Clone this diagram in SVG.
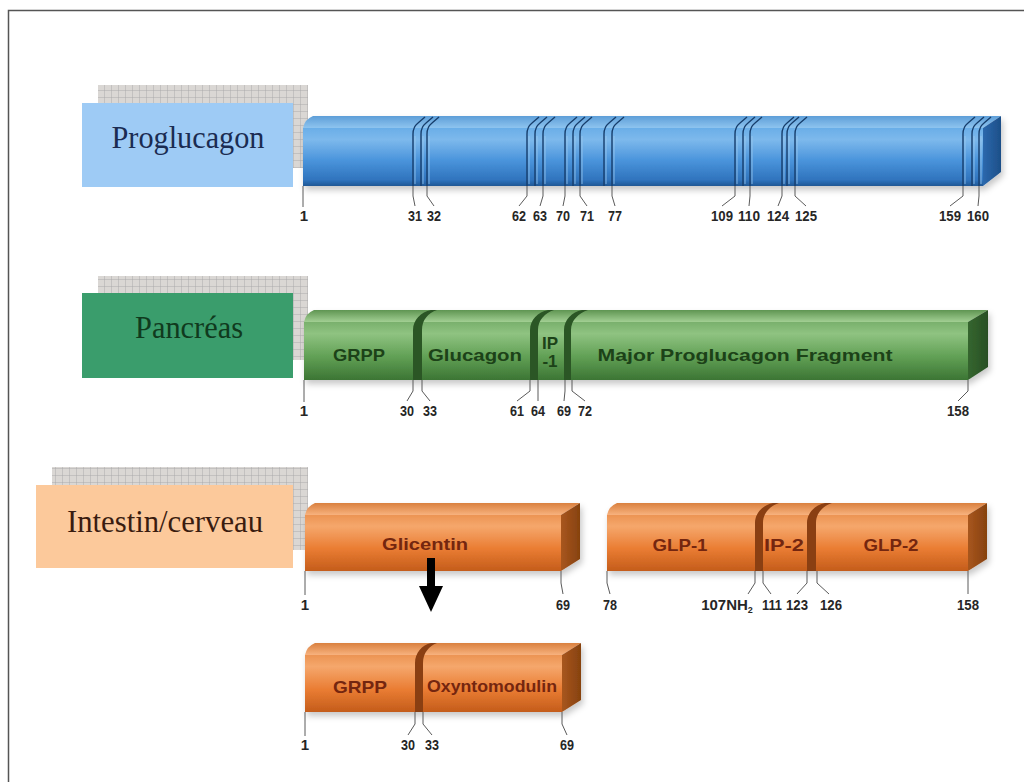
<svg xmlns="http://www.w3.org/2000/svg" width="1024" height="782" viewBox="0 0 1024 782">
  <defs>
    <style>
      .title { font-family: "Liberation Serif", "Times New Roman", serif; font-size: 32px; }
      .num { font-family: "Liberation Sans Narrow", "Liberation Sans", Arial, sans-serif; font-weight: bold; font-size: 15px; fill: #262626; text-anchor: middle; }
      .seg { font-family: "Liberation Sans", Arial, sans-serif; font-weight: bold; font-size: 17px; text-anchor: middle; }
      .seg-g { fill: #1c4218; }
      .seg-o { fill: #74260f; }
      .lead { fill: none; stroke: #5a5a5a; stroke-width: 1; }
      .cut-b { fill: none; stroke: #173e6c; stroke-width: 1.4; }
      .cut-hl { fill: none; stroke: #9cc9ee; stroke-width: 0.8; }
      .groove-g { fill: #2b5625; }
      .groove-o { fill: #8a3f12; }
    </style>

    <pattern id="grid" width="7" height="7" patternUnits="userSpaceOnUse">
      <rect width="7" height="7" fill="#dad7d4"/>
      <path d="M7,0 V7 M0,7 H7" stroke="#a6a6a8" stroke-width="0.9"/>
    </pattern>

    <filter id="shadow" x="-5%" y="-30%" width="110%" height="170%">
      <feDropShadow dx="2" dy="4" stdDeviation="3" flood-color="#000" flood-opacity="0.22"/>
    </filter>

    <!-- blue box -->
    <linearGradient id="bFront" x1="0" y1="0" x2="0" y2="1">
      <stop offset="0" stop-color="#6aaee8"/>
      <stop offset="0.2" stop-color="#7db9ec"/>
      <stop offset="0.55" stop-color="#4b95dc"/>
      <stop offset="0.9" stop-color="#2f73bd"/>
      <stop offset="1" stop-color="#1f5895"/>
    </linearGradient>
    <linearGradient id="bTop" x1="0" y1="0" x2="0" y2="1">
      <stop offset="0" stop-color="#5d9ed8"/>
      <stop offset="1" stop-color="#8ec4ef"/>
    </linearGradient>
    <linearGradient id="bSide" x1="0" y1="0" x2="1" y2="0">
      <stop offset="0" stop-color="#2b68ad"/>
      <stop offset="1" stop-color="#1d4f88"/>
    </linearGradient>

    <!-- green box -->
    <linearGradient id="gFront" x1="0" y1="0" x2="0" y2="1">
      <stop offset="0" stop-color="#79b06c"/>
      <stop offset="0.2" stop-color="#8fc381"/>
      <stop offset="0.6" stop-color="#61a055"/>
      <stop offset="1" stop-color="#3c7534"/>
    </linearGradient>
    <linearGradient id="gTop" x1="0" y1="0" x2="0" y2="1">
      <stop offset="0" stop-color="#5f9552"/>
      <stop offset="1" stop-color="#a2cf93"/>
    </linearGradient>
    <linearGradient id="gSide" x1="0" y1="0" x2="1" y2="0">
      <stop offset="0" stop-color="#35662f"/>
      <stop offset="1" stop-color="#284f24"/>
    </linearGradient>

    <!-- orange box -->
    <linearGradient id="oFront" x1="0" y1="0" x2="0" y2="1">
      <stop offset="0" stop-color="#ec9453"/>
      <stop offset="0.2" stop-color="#f5a76c"/>
      <stop offset="0.6" stop-color="#ea7d33"/>
      <stop offset="1" stop-color="#c45c1b"/>
    </linearGradient>
    <linearGradient id="oTop" x1="0" y1="0" x2="0" y2="1">
      <stop offset="0" stop-color="#d9803f"/>
      <stop offset="1" stop-color="#f7b27e"/>
    </linearGradient>
    <linearGradient id="oSide" x1="0" y1="0" x2="1" y2="0">
      <stop offset="0" stop-color="#a8561e"/>
      <stop offset="1" stop-color="#86420f"/>
    </linearGradient>
  </defs>

  <rect width="1024" height="782" fill="#ffffff"/>
  <!-- frame -->
  <path d="M8.5,782 V10.5 H1024" fill="none" stroke="#555" stroke-width="1.5"/>

  <!-- ===== Row 1: Proglucagon ===== -->
  <g id="label-proglucagon">
    <rect x="98" y="85" width="210" height="83" fill="url(#grid)"/>
    <rect x="82" y="103" width="211" height="84" fill="#9ecbf5"/>
    <text class="title" x="188" y="148" text-anchor="middle" fill="#1b2c52" textLength="153" lengthAdjust="spacingAndGlyphs">Proglucagon</text>
  </g>

  <g id="bar-proglucagon">
    <g filter="url(#shadow)">
      <path d="M303,128 Q305,119 313,116 H1001 L983,128 Z" fill="url(#bTop)"/>
      <rect x="303" y="128" width="680" height="58" fill="url(#bFront)"/>
      <path d="M983,128 L1001,116 V172 L983,186 Z" fill="url(#bSide)"/>
    </g>
    <g id="cuts-proglucagon">
      <path class="cut-b" d="M413,186 V134 Q413,127 418,123 L425,117 M421,186 V134 Q421,127 426,123 L433,117 M427,186 V134 Q427,127 432,123 L439,117"/>
      <path class="cut-b" d="M527,186 V134 Q527,127 532,123 L539,117 M535,186 V134 Q535,127 540,123 L547,117 M543,186 V134 Q543,127 548,123 L555,117"/>
      <path class="cut-b" d="M565,186 V134 Q565,127 570,123 L577,117 M573,186 V134 Q573,127 578,123 L585,117 M580,186 V134 Q580,127 585,123 L592,117"/>
      <path class="cut-b" d="M604,186 V134 Q604,127 609,123 L616,117 M612,186 V134 Q612,127 617,123 L624,117"/>
      <path class="cut-b" d="M735,186 V134 Q735,127 740,123 L747,117 M743,186 V134 Q743,127 748,123 L755,117 M750,186 V134 Q750,127 755,123 L762,117"/>
      <path class="cut-b" d="M782,186 V134 Q782,127 787,123 L794,117 M787,186 V134 Q787,127 792,123 L799,117 M795,186 V134 Q795,127 800,123 L807,117"/>
      <path class="cut-b" d="M963,186 V134 Q963,127 968,123 L975,117 M972,186 V134 Q972,127 977,123 L984,117 M979,186 V134 Q979,127 984,123 L991,117"/>
      <path class="cut-hl" d="M415,184 V136 M423,184 V136 M429,184 V136 M529,184 V136 M537,184 V136 M545,184 V136 M567,184 V136 M575,184 V136 M582,184 V136 M606,184 V136 M614,184 V136 M737,184 V136 M745,184 V136 M752,184 V136 M784,184 V136 M789,184 V136 M797,184 V136 M965,184 V136 M974,184 V136 M981,184 V136"/>
    </g>
  </g>

  <!-- ===== Row 2: Pancréas ===== -->
  <g id="label-pancreas">
    <rect x="98" y="276" width="210" height="84" fill="url(#grid)"/>
    <rect x="82" y="293" width="211" height="85" fill="#3a9d6c"/>
    <text class="title" x="189" y="338" text-anchor="middle" fill="#103a1e" textLength="108" lengthAdjust="spacingAndGlyphs">Pancréas</text>
  </g>

  <g id="bar-pancreas">
    <g filter="url(#shadow)">
      <path d="M304,322 Q306,313 314,310 H988 L968,322 Z" fill="url(#gTop)"/>
      <rect x="304" y="322" width="664" height="58" fill="url(#gFront)"/>
      <path d="M968,322 L988,310 V367 L968,380 Z" fill="url(#gSide)"/>
    </g>
    <path class="groove-g" d="M413,380 V330 C413,320 421,312 431,310 H437 C428,313 422,320 422,330 V380 Z"/>
    <path class="groove-g" d="M530,380 V330 C530,320 538,312 548,310 H554 C545,313 538,320 538,330 V380 Z"/>
    <path class="groove-g" d="M564,380 V330 C564,320 572,312 582,310 H588 C579,313 571,320 571,330 V380 Z"/>
    <text class="seg seg-g" x="359" y="361" textLength="52" lengthAdjust="spacingAndGlyphs">GRPP</text>
    <text class="seg seg-g" x="475" y="361" textLength="94" lengthAdjust="spacingAndGlyphs">Glucagon</text>
    <text class="seg seg-g" x="550" y="349" font-size="11">IP</text>
    <text class="seg seg-g" x="550" y="367" font-size="11">-1</text>
    <text class="seg seg-g" x="745" y="361" textLength="295" lengthAdjust="spacingAndGlyphs">Major Proglucagon Fragment</text>
  </g>

  <!-- ===== Row 3: Intestin/cerveau ===== -->
  <g id="label-intestin">
    <rect x="52" y="467" width="256" height="83" fill="url(#grid)"/>
    <rect x="36" y="485" width="257" height="83" fill="#fcc99b"/>
    <text class="title" x="165" y="532" text-anchor="middle" fill="#3a1c10" textLength="196" lengthAdjust="spacingAndGlyphs">Intestin/cerveau</text>
  </g>

  <g id="bar-glicentin">
    <g filter="url(#shadow)">
      <path d="M305,515 Q307,506 315,503 H580 L561,515 Z" fill="url(#oTop)"/>
      <rect x="305" y="515" width="256" height="56" fill="url(#oFront)"/>
      <path d="M561,515 L580,503 V559 L561,571 Z" fill="url(#oSide)"/>
    </g>
    <text class="seg seg-o" x="425" y="550" textLength="86" lengthAdjust="spacingAndGlyphs">Glicentin</text>
  </g>

  <g id="bar-glp">
    <g filter="url(#shadow)">
      <path d="M607,515 Q609,506 617,503 H987 L968,515 Z" fill="url(#oTop)"/>
      <rect x="607" y="515" width="361" height="56" fill="url(#oFront)"/>
      <path d="M968,515 L987,503 V559 L968,571 Z" fill="url(#oSide)"/>
    </g>
    <path class="groove-o" d="M755,571 V523 C755,513 763,505 773,503 H779 C770,506 763,513 763,523 V571 Z"/>
    <path class="groove-o" d="M807,571 V523 C807,513 815,505 825,503 H832 C823,506 816,513 816,523 V571 Z"/>
    <text class="seg seg-o" x="680" y="551" textLength="55" lengthAdjust="spacingAndGlyphs">GLP-1</text>
    <text class="seg seg-o" x="784" y="551" textLength="40" lengthAdjust="spacingAndGlyphs">IP-2</text>
    <text class="seg seg-o" x="891" y="551" textLength="55" lengthAdjust="spacingAndGlyphs">GLP-2</text>
  </g>

  <!-- ===== Row 4: glicentin products ===== -->
  <g id="bar-oxyntomodulin">
    <g filter="url(#shadow)">
      <path d="M305,655 Q307,646 315,643 H581 L562,655 Z" fill="url(#oTop)"/>
      <rect x="305" y="655" width="257" height="57" fill="url(#oFront)"/>
      <path d="M562,655 L581,643 V700 L562,712 Z" fill="url(#oSide)"/>
    </g>
    <path class="groove-o" d="M415,712 V663 C415,653 422,645 431,643 H437 C429,646 423,653 423,663 V712 Z"/>
    <text class="seg seg-o" x="360" y="693" textLength="54" lengthAdjust="spacingAndGlyphs">GRPP</text>
    <text class="seg seg-o" x="492" y="692" font-size="14" textLength="130" lengthAdjust="spacingAndGlyphs">Oxyntomodulin</text>
  </g>

  <!-- ===== connectors: position leaders and cleavage arrow ===== -->
  <g id="connectors">
    <path class="lead" d="M303,186 V207
      M413,186 V196 L415,206 M427,186 V196 L434,206
      M527,186 V196 L519,206 M543,186 V196 L540,206
      M565,186 V196 L563,206 M580,186 V196 L587,206
      M612,186 V196 L615,206
      M735,186 V196 L722,206 M750,186 V196 L749,206
      M782,186 V196 L778,206 M795,186 V196 L806,206
      M963,186 V196 L950,206 M979,186 V196 L978,206"/>
    <path class="lead" d="M304,380 V402
      M413,380 V391 L407,401 M422,380 V391 L430,401
      M530,380 V391 L517,401 M538,380 V391 L538,401
      M565,380 V391 L564,401 M572,380 V391 L585,401
      M968,380 V391 L958,401"/>
    <path class="lead" d="M305,571 V595 M561,571 V583 L563,594
      M607,571 V583 L610,594
      M755,571 V583 L748,594 M763,571 V583 L771,594
      M807,571 V583 L797,594 M817,571 V583 L829,594
      M968,571 V594"/>
    <path class="lead" d="M305,712 V736
      M415,712 V724 L408,735 M423,712 V724 L432,735
      M562,712 V724 L567,735"/>
    <g id="arrow-cleavage" fill="#000">
      <rect x="427" y="558" width="8" height="30"/>
      <polygon points="419,586 443,586 431,612"/>
    </g>
  </g>

  <!-- residue numbers -->
  <g id="numbers-proglucagon">
    <text class="num" x="304" y="221">1</text>
    <text class="num" x="415" y="221" textLength="14" lengthAdjust="spacingAndGlyphs">31</text>
    <text class="num" x="434" y="221" textLength="14" lengthAdjust="spacingAndGlyphs">32</text>
    <text class="num" x="519" y="221" textLength="14" lengthAdjust="spacingAndGlyphs">62</text>
    <text class="num" x="540" y="221" textLength="14" lengthAdjust="spacingAndGlyphs">63</text>
    <text class="num" x="563" y="221" textLength="14" lengthAdjust="spacingAndGlyphs">70</text>
    <text class="num" x="587" y="221" textLength="14" lengthAdjust="spacingAndGlyphs">71</text>
    <text class="num" x="615" y="221" textLength="14" lengthAdjust="spacingAndGlyphs">77</text>
    <text class="num" x="722" y="221" textLength="22" lengthAdjust="spacingAndGlyphs">109</text>
    <text class="num" x="749" y="221" textLength="22" lengthAdjust="spacingAndGlyphs">110</text>
    <text class="num" x="778" y="221" textLength="22" lengthAdjust="spacingAndGlyphs">124</text>
    <text class="num" x="806" y="221" textLength="22" lengthAdjust="spacingAndGlyphs">125</text>
    <text class="num" x="950" y="221" textLength="22" lengthAdjust="spacingAndGlyphs">159</text>
    <text class="num" x="978" y="221" textLength="22" lengthAdjust="spacingAndGlyphs">160</text>
  </g>
  <g id="numbers-pancreas">
    <text class="num" x="304" y="416">1</text>
    <text class="num" x="407" y="416" textLength="14" lengthAdjust="spacingAndGlyphs">30</text>
    <text class="num" x="430" y="416" textLength="14" lengthAdjust="spacingAndGlyphs">33</text>
    <text class="num" x="517" y="416" textLength="14" lengthAdjust="spacingAndGlyphs">61</text>
    <text class="num" x="538" y="416" textLength="14" lengthAdjust="spacingAndGlyphs">64</text>
    <text class="num" x="564" y="416" textLength="14" lengthAdjust="spacingAndGlyphs">69</text>
    <text class="num" x="585" y="416" textLength="14" lengthAdjust="spacingAndGlyphs">72</text>
    <text class="num" x="958" y="416" textLength="22" lengthAdjust="spacingAndGlyphs">158</text>
  </g>
  <g id="numbers-intestin">
    <text class="num" x="305" y="610">1</text>
    <text class="num" x="563" y="610" textLength="14" lengthAdjust="spacingAndGlyphs">69</text>
    <text class="num" x="610" y="610" textLength="14" lengthAdjust="spacingAndGlyphs">78</text>
    <text class="num" x="727" y="610">107NH<tspan font-size="9" dy="3">2</tspan></text>
    <text class="num" x="772" y="610" textLength="20" lengthAdjust="spacingAndGlyphs">111</text>
    <text class="num" x="797" y="610" textLength="22" lengthAdjust="spacingAndGlyphs">123</text>
    <text class="num" x="831" y="610" textLength="22" lengthAdjust="spacingAndGlyphs">126</text>
    <text class="num" x="968" y="610" textLength="22" lengthAdjust="spacingAndGlyphs">158</text>
  </g>
  <g id="numbers-oxyntomodulin">
    <text class="num" x="305" y="750">1</text>
    <text class="num" x="408" y="750" textLength="14" lengthAdjust="spacingAndGlyphs">30</text>
    <text class="num" x="432" y="750" textLength="14" lengthAdjust="spacingAndGlyphs">33</text>
    <text class="num" x="567" y="750" textLength="14" lengthAdjust="spacingAndGlyphs">69</text>
  </g>
</svg>
